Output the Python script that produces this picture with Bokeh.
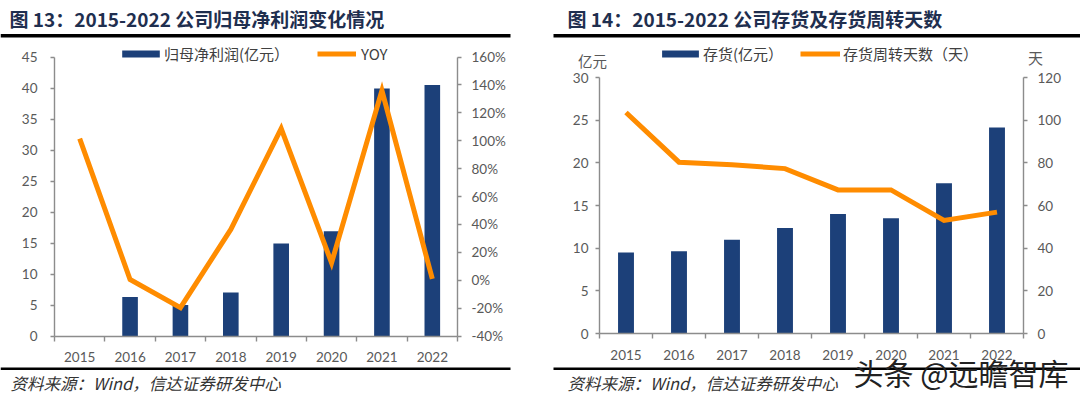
from bokeh.plotting import figure
from bokeh.models import (Range1d, LinearAxis, FixedTicker, PrintfTickFormatter,
                          Legend, LegendItem, Label, BoxAnnotation)
from bokeh.embed import file_html
from bokeh.resources import INLINE

# ---------------- data ----------------
years = [2015, 2016, 2017, 2018, 2019, 2020, 2021, 2022]
net_profit = [float("nan"), 6.3, 5.0, 7.0, 14.9, 16.9, 39.9, 40.5]          # 亿元
net_profit_yoy = [101.5, 0.5, -19.7, 36.4, 108.7, 12.5, 135.9, 1.0]         # %
inventory = [9.5, 9.65, 11.0, 12.35, 14.0, 13.5, 17.6, 24.15]               # 亿元
turnover_days = [103.6, 80.3, 79.1, 77.3, 67.3, 67.3, 53.0, 56.9]           # 天

left_ticks = [0, 5, 10, 15, 20, 25, 30, 35, 40, 45]
yoy_ticks = [-40, -20, 0, 20, 40, 60, 80, 100, 120, 140, 160]
inv_ticks = [0, 5, 10, 15, 20, 25, 30]
day_ticks = [0, 20, 40, 60, 80, 100, 120]

title1 = "图 13：2015-2022 公司归母净利润变化情况"
title2 = "图 14：2015-2022 公司存货及存货周转天数"
source = "资料来源：Wind，信达证券研发中心"
bar_label1 = "归母净利润(亿元）"
line_label1 = "YOY"
bar_label2 = "存货(亿元）"
line_label2 = "存货周转天数（天）"
unit_left = "亿元"
unit_right = "天"
watermark = "头条 @远瞻智库"

# ---------------- styles / layout ----------------
NAVY = "#1C4079"
ORANGE = "#FF8C00"
AXIS = "#8C8C8C"
TICKTXT = "#595959"
TITLE = "#1F2F4F"
CJK = "Noto Sans CJK SC"
NUM = "Lato"

W, H = 1080, 398


def span_range(v0, p0, v1, p1, p_lo, p_hi):
    """Range whose value v0 sits at pixel p0 and v1 at pixel p1; frame spans p_lo..p_hi."""
    k = (p1 - p0) / (v1 - v0)
    return Range1d(start=v0 + (p_lo - p0) / k, end=v0 + (p_hi - p0) / k)


p = figure(width=W, height=H, x_range=Range1d(0, W), y_range=Range1d(H, 0),
           x_axis_type=None, y_axis_type=None, output_backend="svg",
           toolbar_location=None, min_border=0)
p.outline_line_color = None
p.background_fill_color = "white"
p.border_fill_color = "white"

x0, x1 = years[0] - 0.5, years[-1] + 0.5
p.extra_x_ranges = {
    "xL": span_range(x0, 54, x1, 457, 0, W),
    "xR": span_range(x0, 599, x1, 1023, 0, W),
}
p.extra_y_ranges = {
    "yL": span_range(0, 335.5, 45, 56.5, H, 0),
    "yoy": span_range(-40, 335.5, 160, 56.5, H, 0),
    "yR": span_range(0, 333, 30, 77, H, 0),
    "days": span_range(0, 333, 120, 77, H, 0),
}


def style_axis(ax, tick_out=4, standoff=8):
    ax.axis_line_color = AXIS
    ax.axis_line_width = 1.4
    ax.major_tick_line_color = AXIS
    ax.major_tick_line_width = 1.4
    ax.major_tick_in = 0
    ax.major_tick_out = tick_out
    ax.minor_tick_line_color = AXIS
    ax.minor_tick_line_width = 1.4
    ax.minor_tick_in = 0
    ax.minor_tick_out = 5
    ax.major_label_text_font = NUM
    ax.major_label_text_font_size = "13.5px"
    ax.major_label_text_color = TICKTXT
    ax.major_label_standoff = standoff


def add_chart_axes(xr, yl, yr, lticks, rticks, rfmt, lstand, rstand):
    xa = LinearAxis(x_range_name=xr, y_range_name=yl, fixed_location=0, bounds=(x0, x1),
                    ticker=FixedTicker(ticks=years,
                                       minor_ticks=[y - 0.5 for y in years] + [x1]),
                    formatter=PrintfTickFormatter(format="%d"))
    style_axis(xa, tick_out=0, standoff=11)
    p.add_layout(xa, "below")
    ya = LinearAxis(x_range_name=xr, y_range_name=yl, fixed_location=x0,
                    bounds=(lticks[0], lticks[-1]), ticker=FixedTicker(ticks=lticks))
    style_axis(ya, standoff=lstand)
    p.add_layout(ya, "left")
    yb = LinearAxis(x_range_name=xr, y_range_name=yr, fixed_location=x1,
                    bounds=(rticks[0], rticks[-1]), ticker=FixedTicker(ticks=rticks),
                    formatter=PrintfTickFormatter(format=rfmt))
    style_axis(yb, standoff=rstand)
    p.add_layout(yb, "right")


def add_text(x, y, text, size, color, font=CJK, style="normal", align="left"):
    p.add_layout(Label(x=x, y=y, text=text, text_font=font, text_font_size=size,
                       text_font_style=style, text_color=color,
                       text_baseline="middle", text_align=align))


def add_rule(xa, xb, ya, yb):
    p.add_layout(BoxAnnotation(left=xa, right=xb, top=ya, bottom=yb,
                               fill_color="black", fill_alpha=1.0, line_color=None))


def add_legend(r, label, x, top, gw, gh, standoff):
    leg = Legend(items=[LegendItem(label=label, renderers=[r])],
                 location=(x, H - top - 16),
                 orientation="horizontal", glyph_width=gw, glyph_height=gh,
                 label_standoff=standoff, label_height=16, padding=0, margin=0,
                 border_line_color=None, background_fill_alpha=0,
                 label_text_font=CJK, label_text_font_size="15px",
                 label_text_color="#404040")
    p.add_layout(leg)


# ---------------- left chart ----------------
add_chart_axes("xL", "yL", "yoy", left_ticks, yoy_ticks, "%d%%", 13, 10)
b1 = p.vbar(x=years, top=net_profit, width=0.31, fill_color=NAVY, line_color=None,
            x_range_name="xL", y_range_name="yL")
l1 = p.line(x=years, y=net_profit_yoy, line_color=ORANGE, line_width=5, line_join="miter",
            x_range_name="xL", y_range_name="yoy")
add_legend(b1, bar_label1, 117, 47.5, 47, 9, 0)
add_legend(l1, line_label1, 317, 47.5, 39, 9, 5)

add_text(9, 18, title1, "19px", TITLE, style="bold")
add_rule(0, 510, 33.5, 37)
add_rule(0, 510, 367, 369.5)
add_text(10, 382, source, "16.5px", "#333333", style="italic")

# ---------------- right chart ----------------
add_chart_axes("xR", "yR", "days", inv_ticks, day_ticks, "%d", 7, 10)
b2 = p.vbar(x=years, top=inventory, width=0.3, fill_color=NAVY, line_color=None,
            x_range_name="xR", y_range_name="yR")
l2 = p.line(x=years, y=turnover_days, line_color=ORANGE, line_width=5, line_join="miter",
            x_range_name="xR", y_range_name="days")
add_legend(b2, bar_label2, 657, 47.5, 46, 9, 0)
add_legend(l2, line_label2, 800, 47.5, 40, 9, 3)

add_text(592, 60, unit_left, "14.5px", TICKTXT, align="center")
add_text(1035, 57, unit_right, "15px", TICKTXT, align="center")
add_text(567, 18, title2, "19px", TITLE, style="bold")
add_rule(553, 1080, 33.5, 37)
add_rule(553, 1080, 367, 369.5)
add_text(567, 382, source, "16.5px", "#333333", style="italic")
add_text(853, 371, watermark, "30px", "#222222")

open("out.html", "w").write(file_html(p, INLINE))
